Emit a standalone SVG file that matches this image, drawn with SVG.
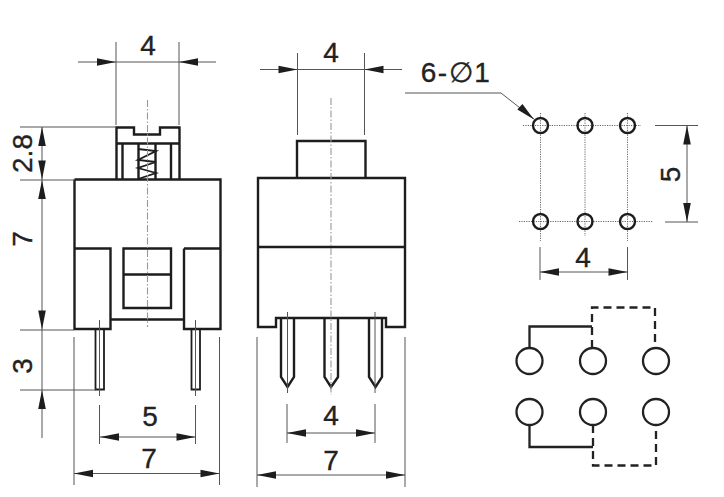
<svg xmlns="http://www.w3.org/2000/svg" width="724" height="497" viewBox="0 0 724 497">
<style>
text{font-family:"Liberation Sans",Arial,sans-serif;font-size:28px;fill:#222;stroke:#222;stroke-width:.35;text-anchor:middle}
.o{fill:none;stroke:#1d1d1d;stroke-width:2.4}
.t{fill:none;stroke:#1d1d1d;stroke-width:1.8}
.d{fill:none;stroke:#555;stroke-width:1}
.c{fill:none;stroke:#999;stroke-width:1.1;stroke-dasharray:7 2 1.5 2}
.p{fill:none;stroke:#666;stroke-width:1;stroke-dasharray:1.2 1.2}
.s{fill:none;stroke:#222;stroke-width:2.3}
.x{fill:none;stroke:#222;stroke-width:2.3;stroke-dasharray:8 5}
.a{fill:#1d1d1d}
</style>
<defs>
<path id="ar" class="a" d="M0 0L-19 -3.800V3.800Z"/>
</defs>
<g id="front-view">
<path class="o" d="M74.5 179.5H220.5V329H184V248.5M220.5 248.5H184M74.5 179.5V329H110.5V248.5H74.5M110.5 319.5H184"/>
<path class="o" d="M123.5 248.5H171V308H123.5ZM123.5 274.5H171"/>
<path class="o" d="M116.5 179V127.5H134V134.5H160V127.5H179.5V179M116.5 143.5H179.5M122.5 143.5V179M171 143.5V179M138.5 143.5V179M155.5 143.5V179"/>
<path class="t" d="M138 149L156 151L138 160L156 162L138 168L156 173L138 179"/>
<path class="t" d="M95.5 329.5V389.5H104V329.5M191.5 329.5V389.5H200V329.5"/>
<path class="c" d="M147.5 100V327"/>
<path class="d" d="M99.5 320V396M195.5 320V396"/>
</g>
<g id="side-view">
<path class="o" d="M258 178H405V327H386V318H276V327H258ZM258 247H405"/>
<path class="o" d="M297 178V141H365.5V178"/>
<path class="o" d="M281 318V377L287.5 387L294 377V318M324.5 318V377L331 387L338 377V318M369 318V377L375.5 387L382 377V318"/>
<path class="c" d="M331 98V395"/>
<path class="d" d="M287.5 312V393M375 312V393"/>
</g>
<g id="footprint">
<path class="p" d="M523 125.500H641M519 221.500H653M540.500 113V241M585 113V236M627.500 113V241"/>
<g id="holes">
<circle class="o" cx="540.500" cy="125.500" r="7.500"/><circle class="o" cx="585" cy="125.500" r="7.500"/><circle class="o" cx="627.500" cy="125.500" r="7.500"/>
<circle class="o" cx="540.500" cy="221.500" r="7.500"/><circle class="o" cx="585" cy="221.500" r="7.500"/><circle class="o" cx="627.500" cy="221.500" r="7.500"/>
</g>
</g>
<g id="schematic">
<g id="terminals">
<circle class="s" cx="529.500" cy="361" r="13"/><circle class="s" cx="593" cy="361" r="13"/><circle class="s" cx="656" cy="361" r="13"/>
<circle class="s" cx="529.500" cy="412" r="13"/><circle class="s" cx="593" cy="412" r="13"/><circle class="s" cx="656" cy="412" r="13"/>
</g>
<path class="s" d="M529.500 348V326.500H592M529.500 425V447H593"/>
<path class="x" d="M592 348V307.500H655V348M593 425V465.500H656V425"/>
</g>
<g id="connectors">
<path class="d" d="M78 62H216M116 42V125M179 42V125"/>
<use href="#ar" transform="translate(116 62)"/><use href="#ar" transform="translate(179 62) rotate(180)"/>
<path class="d" d="M42 127V438M20 127H116M20 180H74M20 330H74M20 390H96"/>
<use href="#ar" transform="translate(42 127) rotate(-90)"/><use href="#ar" transform="translate(42 179.500) rotate(90)"/>
<use href="#ar" transform="translate(42 180) rotate(-90)"/><use href="#ar" transform="translate(42 329.500) rotate(90)"/>
<use href="#ar" transform="translate(42 390) rotate(-90)"/>
<path class="d" d="M99.500 405V444M195.500 405V444M100 437H195"/>
<use href="#ar" transform="translate(100 437) rotate(180)"/><use href="#ar" transform="translate(195.500 437)"/>
<path class="d" d="M74 337V485M219.500 337V485M74 473.500H219.500"/>
<use href="#ar" transform="translate(74 473.500) rotate(180)"/><use href="#ar" transform="translate(219.500 473.500)"/>
<path class="d" d="M260 69.500H402M297.500 53V135M364.500 53V135"/>
<use href="#ar" transform="translate(297.500 69.500)"/><use href="#ar" transform="translate(364.500 69.500) rotate(180)"/>
<path class="d" d="M287 404V443M375 404V443M287 433H375"/>
<use href="#ar" transform="translate(287 433) rotate(180)"/><use href="#ar" transform="translate(375 433)"/>
<path class="d" d="M257 337V487M405 337V487M257 475H405"/>
<use href="#ar" transform="translate(257 475) rotate(180)"/><use href="#ar" transform="translate(405 475)"/>
<path class="d" d="M405 93H501L534 119"/>
<use href="#ar" transform="translate(534 119.500) rotate(42)"/>
<path class="d" d="M687 125.500V222M655 125.500H698M665 222H698"/>
<use href="#ar" transform="translate(687 125.500) rotate(-90)"/><use href="#ar" transform="translate(687 222) rotate(90)"/>
<path class="d" d="M540 247V280M627.500 247V280M540 272H627.500"/>
<use href="#ar" transform="translate(540 272) rotate(180)"/><use href="#ar" transform="translate(627.500 272)"/>
</g>
<g id="labels">
<text x="148" y="55">4</text>
<text x="331" y="62">4</text>
<text transform="translate(32 153.500) rotate(-90)">2.8</text>
<text transform="translate(32 239) rotate(-90)">7</text>
<text transform="translate(32 366) rotate(-90)">3</text>
<text x="150" y="426">5</text>
<text x="149" y="468">7</text>
<text x="331" y="425">4</text>
<text x="331" y="470">7</text>
<text x="456" y="82" letter-spacing="1.500">6-∅1</text>
<text transform="translate(680 174.500) rotate(-90)">5</text>
<text x="583" y="267">4</text>
</g>
</svg>
